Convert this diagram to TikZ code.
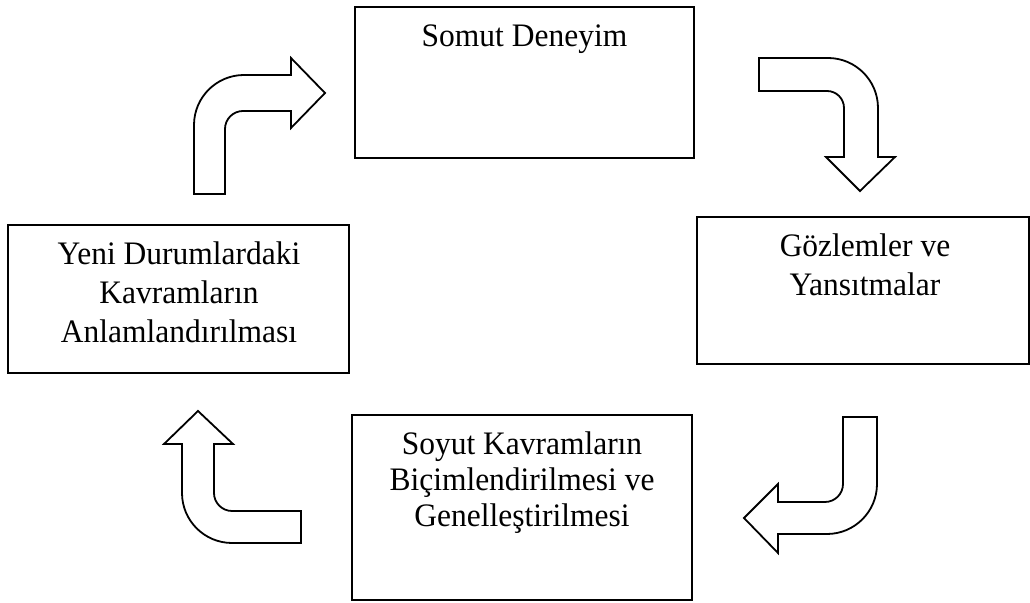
\documentclass[tikz,border=0pt]{standalone}
\usepackage{fontspec}
\setmainfont[FakeStretch=0.96]{Liberation Serif}
\begin{document}
\begin{tikzpicture}[x=0.5pt,y=-0.5pt,
  box/.style={draw=black,line width=1.1pt,fill=white,rectangle,inner sep=0pt},
  txt/.style={anchor=base,inner sep=0pt,font=\fontsize{16.4pt}{19pt}\selectfont},
  blockarrow/.style={draw=black,line width=0.9pt,fill=white,line join=miter}]
\useasboundingbox (0,0) rectangle (1030,603);
\fill[white] (0,0) rectangle (1030,603);
% boxes
\node[box,minimum width=169.5pt,minimum height=75.5pt] (b1) at (524.5,82.5) {};
\node[box,minimum width=166pt,minimum height=73.5pt] (b2) at (863,290.5) {};
\node[box,minimum width=170.5pt,minimum height=74pt] (b3) at (178.5,299) {};
\node[box,minimum width=170pt,minimum height=92.5pt] (b4) at (522,507.5) {};
% texts
\node[txt] (t1) at (524.5,46.5) {Somut Deneyim};
\node[txt] (t2a) at (865,257) {Gözlemler ve};
\node[txt] (t2b) at (865,296) {Yansıtmalar};
\node[txt] (t3a) at (179,265) {Yeni Durumlardaki};
\node[txt] (t3b) at (179,304) {Kavramların};
\node[txt] (t3c) at (179,343) {Anlamlandırılması};
\node[txt] (t4a) at (522,455) {Soyut Kavramların};
\node[txt] (t4b) at (522,491) {Biçimlendirilmesi ve};
\node[txt] (t4c) at (522,527) {Genelleştirilmesi};
% block arrows
\draw[blockarrow] (194,194) -- (194,125) .. controls (194,97.4) and (216.4,75) .. (244,75)
  -- (291,75) -- (291,58) -- (325,93) -- (291,128) -- (291,111) -- (243,111)
  .. controls (233.1,111) and (225,119.1) .. (225,129) -- (225,194) -- cycle;
\draw[blockarrow] (759,58) -- (828,58) .. controls (855.6,58) and (878,80.4) .. (878,108)
  -- (878,157) -- (895,157) -- (860,191) -- (826,157) -- (844,157) -- (844,108)
  .. controls (844,98.6) and (836.4,91) .. (827,91) -- (759,91) -- cycle;
\draw[blockarrow] (843,417) -- (877,417) -- (877,484) .. controls (877,511.6) and (854.6,534) .. (827,534)
  -- (778,534) -- (778,553) -- (744,518) -- (778,484) -- (778,502) -- (825,502)
  .. controls (834.9,502) and (843,493.9) .. (843,484) -- cycle;
\draw[blockarrow] (198,411) -- (233,444) -- (214,444) -- (214,493)
  .. controls (214,502.9) and (222.1,511) .. (232,511) -- (301,511) -- (301,543) -- (232,543)
  .. controls (204.4,543) and (182,520.6) .. (182,493) -- (182,444) -- (164,444) -- cycle;
\end{tikzpicture}
\end{document}
